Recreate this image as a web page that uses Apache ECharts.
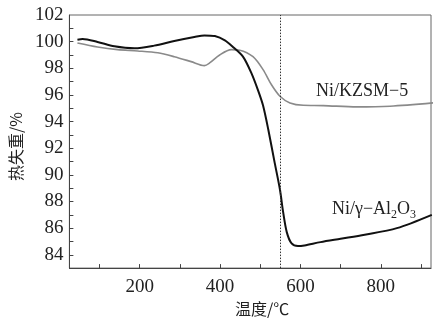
<!DOCTYPE html>
<html><head><meta charset="utf-8">
<script src="https://cdn.jsdelivr.net/npm/echarts@6/dist/echarts.min.js"></script>
<style>html,body{margin:0;padding:0;background:#fff}#c{width:435px;height:322px}</style>
</head><body><div id="c"></div>
<script>
var alTemp = [45, 58, 95, 137, 187, 236, 286, 336, 361, 387, 412, 432, 457, 478, 495, 507, 520, 536, 549, 557, 566, 578, 594, 610, 650, 700, 760, 840, 927];
var alMass = [100.15, 100.2, 99.98, 99.65, 99.5, 99.7, 100.05, 100.35, 100.47, 100.42, 100.1, 99.6, 98.87, 97.63, 96.3, 95.2, 93.4, 90.9, 88.9, 87.2, 85.7, 84.85, 84.65, 84.7, 84.95, 85.2, 85.5, 86.0, 87.0];
var zsmTemp = [45, 95, 145, 195, 245, 286, 328, 361, 374, 399, 428, 449, 482, 507, 528, 549, 574, 607, 657, 740, 823, 930];
var zsmMass = [99.9, 99.6, 99.4, 99.3, 99.16, 98.87, 98.5, 98.2, 98.4, 99.0, 99.4, 99.36, 98.87, 97.9, 96.76, 95.9, 95.4, 95.22, 95.2, 95.1, 95.15, 95.4];
var markTemp = 551;
var xTickValues = [100, 200, 300, 400, 500, 600, 700, 800, 900];
var xLabelValues = [200, 400, 600, 800];
var yTickValues = [84, 85, 86, 87, 88, 89, 90, 91, 92, 93, 94, 95, 96, 97, 98, 99, 100, 101];
var yLabelValues = [84, 86, 88, 90, 92, 94, 96, 98, 100, 102];
var seriesNames = ['Ni/KZSM\u22125', 'Ni/\u03b3\u2212Al\u2082O\u2083'];

function pairs(a, b) { return a.map(function (v, i) { return [v, b[i]]; }); }

var chart = echarts.init(document.getElementById('c'), null, {renderer: 'canvas'});
var serif = 'Liberation Serif';
chart.setOption({
  animation: false,
  grid: {left: 69, right: 4, top: 15, bottom: 49, show: true, borderColor: '#666', borderWidth: 1},
  xAxis: {
    type: 'value', min: 25, max: 925,
    name: '温度/℃', nameLocation: 'middle', nameGap: 31,
    nameTextStyle: {fontFamily: 'Noto Sans CJK SC', fontSize: 16, color: '#222', padding: [0, 0, 0, 24]},
    axisLine: {show: true, lineStyle: {color: '#444', width: 1}},
    axisTick: {show: true, inside: true, length: 4, customValues: xTickValues, lineStyle: {color: '#444'}},
    axisLabel: {customValues: xLabelValues, fontFamily: serif, fontSize: 19, color: '#222', margin: 9},
    splitLine: {show: false}
  },
  yAxis: {
    type: 'value', min: 83, max: 102,
    name: '热失重/%', nameLocation: 'middle', nameGap: 41, nameRotate: 90,
    nameTextStyle: {fontFamily: 'Noto Sans CJK SC', fontSize: 16, color: '#222', padding: [0, 0, 0, -10]},
    axisLine: {show: true, lineStyle: {color: '#444', width: 1}},
    axisTick: {show: true, inside: true, length: 4, customValues: yTickValues, lineStyle: {color: '#444'}},
    axisLabel: {customValues: yLabelValues, fontFamily: serif, fontSize: 19, color: '#222', margin: 6},
    splitLine: {show: false}
  },
  series: [
    {
      name: seriesNames[0], type: 'line', data: pairs(zsmTemp, zsmMass), smooth: 0.3,
      symbol: 'none', lineStyle: {color: '#8a8a8a', width: 1.6},
      markLine: {
        silent: true, symbol: 'none', label: {show: false},
        lineStyle: {color: '#333', type: [1.5, 1.5], width: 1},
        data: [{xAxis: markTemp}]
      }
    },
    {
      name: seriesNames[1], type: 'line', data: pairs(alTemp, alMass), smooth: 0.3,
      symbol: 'none', lineStyle: {color: '#111', width: 2}
    }
  ],
  graphic: [
    {type: 'text', left: 316, top: 82, style: {text: seriesNames[0], font: '18px "Liberation Serif"', fill: '#222'}},
    {type: 'text', left: 332, top: 200, style: {
      text: '{n|Ni/\u03b3\u2212Al}{s|2}{n|O}{s|3}',
      rich: {
        n: {fontFamily: serif, fontSize: 18, fill: '#222', lineHeight: 22, verticalAlign: 'bottom'},
        s: {fontFamily: serif, fontSize: 12, fill: '#222', lineHeight: 22, verticalAlign: 'bottom', padding: [0, 0, -3, 0]}
      }
    }}
  ]
});
</script></body></html>
